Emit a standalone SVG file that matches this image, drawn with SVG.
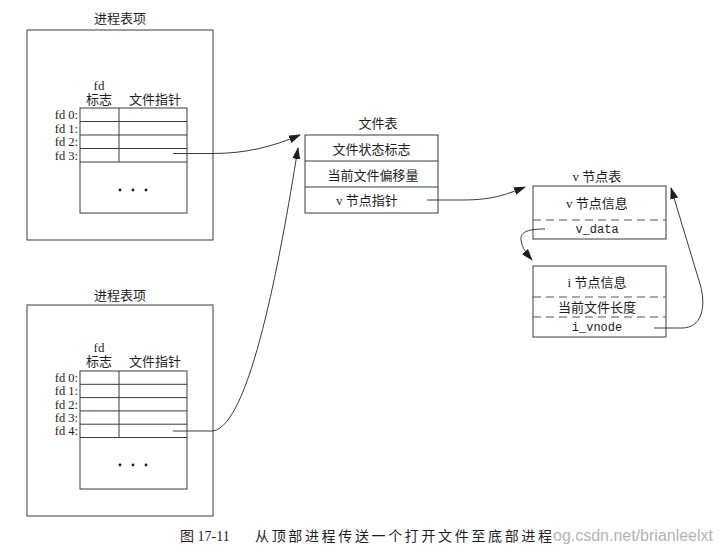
<svg xmlns="http://www.w3.org/2000/svg" width="724" height="554" viewBox="0 0 724 554">
<style>
.box{fill:none;stroke:#3a3a3a;stroke-width:1}
.ln{stroke:#3a3a3a;stroke-width:1;fill:none}
.dash{stroke:#555;stroke-width:1;stroke-dasharray:8 5;fill:none}
.t{font-family:"Liberation Serif","Noto Sans CJK SC",serif;font-size:13px;fill:#1e1e1e}
.fd{font-family:"Liberation Serif",serif;font-size:12.5px;fill:#1e1e1e;text-anchor:end}
.m{text-anchor:middle}
.mono{font-family:"Liberation Mono","DejaVu Sans Mono",monospace;font-size:12px;fill:#1e1e1e;text-anchor:middle}
.dot{fill:#1e1e1e}
.con{fill:none;stroke:#3a3a3a;stroke-width:1;marker-end:url(#ah)}
</style>
<defs>
<marker id="ah" markerUnits="userSpaceOnUse" markerWidth="12" markerHeight="8" refX="11" refY="4" orient="auto">
<path d="M0,0 L12,4 L0,8 Z" fill="#1e1e1e"/>
</marker>
</defs>
<rect width="724" height="554" fill="#ffffff"/>

<g id="proc-top">
<text class="t m" x="120" y="23">进程表项</text>
<rect class="box" x="27" y="30" width="186" height="210"/>
<text class="t m" x="99" y="89.5">fd</text>
<text class="t m" x="99" y="104">标志</text>
<text class="t m" x="155" y="104">文件指针</text>
<rect class="box" x="80" y="108" width="107" height="105"/>
<path class="ln" d="M80,121.5H187M80,135H187M80,148.5H187M80,162H187M119,108V162"/>
<text class="fd" x="78" y="119">fd 0:</text>
<text class="fd" x="78" y="132.5">fd 1:</text>
<text class="fd" x="78" y="146">fd 2:</text>
<text class="fd" x="78" y="159.5">fd 3:</text>
<circle class="dot" cx="120" cy="190" r="1.4"/>
<circle class="dot" cx="133" cy="190" r="1.4"/>
<circle class="dot" cx="146" cy="190" r="1.4"/>
</g>

<g id="proc-bottom">
<text class="t m" x="120" y="300">进程表项</text>
<rect class="box" x="27" y="305" width="186" height="211"/>
<text class="t m" x="99" y="351.5">fd</text>
<text class="t m" x="99" y="366">标志</text>
<text class="t m" x="155" y="366">文件指针</text>
<rect class="box" x="80" y="371" width="107" height="118"/>
<path class="ln" d="M80,384.3H187M80,397.6H187M80,410.9H187M80,424.2H187M80,437.5H187M119,371V437.5"/>
<text class="fd" x="78" y="382">fd 0:</text>
<text class="fd" x="78" y="395.3">fd 1:</text>
<text class="fd" x="78" y="408.6">fd 2:</text>
<text class="fd" x="78" y="421.9">fd 3:</text>
<text class="fd" x="78" y="435.2">fd 4:</text>
<circle class="dot" cx="120" cy="465" r="1.4"/>
<circle class="dot" cx="133" cy="465" r="1.4"/>
<circle class="dot" cx="146" cy="465" r="1.4"/>
</g>

<g id="file-table">
<text class="t m" x="378" y="128">文件表</text>
<rect class="box" x="305" y="135" width="133" height="78"/>
<path class="ln" d="M305,161H438M305,187H438"/>
<text class="t m" x="371.5" y="154">文件状态标志</text>
<text class="t m" x="373" y="180">当前文件偏移量</text>
<text class="t m" x="367" y="205">v 节点指针</text>
</g>

<g id="vnode-table">
<text class="t m" x="597" y="181">v 节点表</text>
<rect class="box" x="533" y="186" width="133" height="53"/>
<path class="dash" d="M533,220H666"/>
<text class="t m" x="597" y="208">v 节点信息</text>
<text class="mono" x="597" y="233">v_data</text>
</g>

<g id="inode-info">
<rect class="box" x="533" y="266" width="133" height="71"/>
<path class="dash" d="M533,297H666M533,317H666"/>
<text class="t m" x="597" y="287">i 节点信息</text>
<text class="t m" x="597" y="312">当前文件长度</text>
<text class="mono" x="597" y="331">i_vnode</text>
</g>

<g id="connectors">
<path class="con" d="M173,153.5 L213,153.5 C245,153.5 272,147 300,135"/>
<path class="con" d="M173,431 L213,431 C250,425 280,260 298,148"/>
<path class="con" d="M427,200 L462,200 C492,200 505,195 525,187"/>
<path class="con" d="M545,229 C530,229 520,231 521,240 C522,248 527,254 532,260"/>
<path class="con" d="M654,328 L682,328 C701,328 707,308 700,284 L671,188"/>
</g>

<g id="caption">
<text class="t" x="180" y="541" style="font-size:14px">图 17-11</text>
<text class="t" x="255" y="541" style="font-size:14px" textLength="297" lengthAdjust="spacing">从顶部进程传送一个打开文件至底部进程</text>
<text x="553" y="541" style="font-family:'Liberation Sans',Arial,sans-serif;font-size:16px;fill:#b4b4b4" textLength="160" lengthAdjust="spacingAndGlyphs">og.csdn.net/brianleelxt</text>
</g>
</svg>
